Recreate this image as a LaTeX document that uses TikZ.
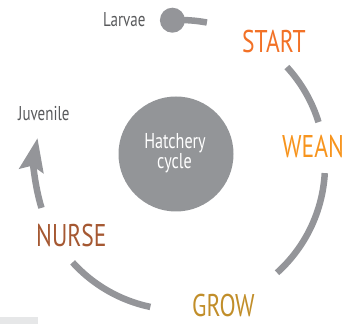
\documentclass[tikz,border=0pt]{standalone}
\usepackage{fontspec}
\setmainfont[FakeStretch=0.75]{PT Sans}
\usetikzlibrary{arrows.meta,calc}
\definecolor{ringgray}{RGB}{148,149,153}
\definecolor{hubgray}{RGB}{147,149,152}
\definecolor{labelgray}{RGB}{88,89,91}
\definecolor{startc}{RGB}{242,113,38}
\definecolor{weanc}{RGB}{247,148,29}
\definecolor{growc}{RGB}{193,142,42}
\definecolor{nursec}{RGB}{165,88,50}
\definecolor{footgray}{RGB}{230,231,232}
\tikzset{
  ring/.style={draw=ringgray, line width=6.5pt},
  stage/.style={inner sep=0pt, anchor=base west, font=\fontsize{31.4}{34}\selectfont},
  note/.style={inner sep=0pt, anchor=base west, text=labelgray, font=\fontsize{20}{22}\selectfont},
  hubtext/.style={inner sep=0pt, anchor=base, text=white, font=\fontsize{21.5}{24}\selectfont}
}
\begin{document}
\begin{tikzpicture}[x=1pt,y=1pt]
\useasboundingbox (0,0) rectangle (354,324);
\fill[footgray] (0,0) rectangle (37.7,7);
\coordinate (C) at (180,159);
% central hub
\node (hub) at (176,170) [circle, fill=hubgray, minimum size=115pt, inner sep=0pt] {};
\node[hubtext] (hatch) at (175,175) {Hatchery};
\node[hubtext] (cyc) at (174.5,155) {cycle};
% ring segments, running clockwise
\coordinate (s0) at ($(C)+(93:145)$);
\coordinate (s1) at ($(C)+(42.5:145)$);
\coordinate (s2) at ($(C)+(-3.2:145)$);
\coordinate (s3) at ($(C)+(258.2:145)$);
\coordinate (s4) at ($(C)+(197.2:145)$);
\draw[ring] (s0) arc[start angle=93, end angle=79.3, radius=145];
\draw[ring] (s1) arc[start angle=42.5, end angle=17.2, radius=145];
\draw[ring] (s2) arc[start angle=-3.2, end angle=-48, radius=145];
\draw[ring] (s3) arc[start angle=258.2, end angle=222.2, radius=145];
\draw[ring, -{Stealth[length=33pt,width=24pt,inset=5pt]}] (s4) arc[start angle=197.2, end angle=169.3, radius=145];
\node (knob) at (s0) [circle, fill=ringgray, minimum size=25pt, inner sep=0pt] {};
% labels
\node[note] (larvae) at (103,297) {Larvae};
\node[note] (juv) at (18,203) {Juvenile};
\node[stage, text=startc] (start) at (242,271) {START};
\node[stage, text=weanc] (wean) at (282,166) {WEAN};
\node[stage, text=growc] (grow) at (192,7.5) {GROW};
\node[stage, text=nursec] (nurse) at (36,77) {NURSE};
\end{tikzpicture}
\end{document}
